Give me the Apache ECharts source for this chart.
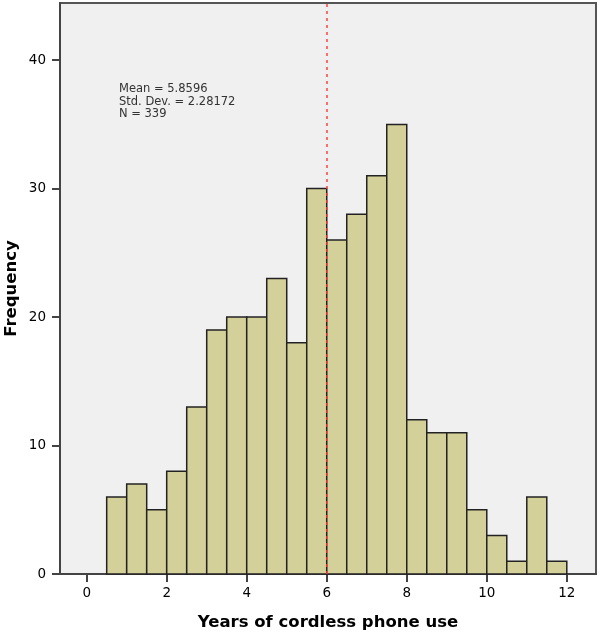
<!DOCTYPE html>
<html><head><meta charset="utf-8">
<script src="https://cdn.jsdelivr.net/npm/echarts@6/dist/echarts.min.js"></script>
<style>html,body{margin:0;padding:0;background:#fff}#c{width:600px;height:635px}</style>
</head><body><div id="c"></div>
<script>
const binStarts = [0.5,1.0,1.5,2.0,2.5,3.0,3.5,4.0,4.5,5.0,5.5,6.0,6.5,7.0,7.5,8.0,8.5,9.0,9.5,10.0,10.5,11.0,11.5];
const binWidth = 0.5;
const frequencies = [6,7,5,8,13,19,20,20,23,18,30,26,28,31,35,12,11,11,5,3,1,6,1];
const xTicks = [0,2,4,6,8,10,12];
const yTicks = [0,10,20,30,40];
const meanLine = 6;
const statsText = ['Mean = 5.8596','Std. Dev. = 2.28172','N = 339'];

const data = binStarts.map((s,i)=>[s, s+binWidth, frequencies[i]]);
const chart = echarts.init(document.getElementById('c'));
chart.setOption({
  backgroundColor:'#fff',
  animation:false,
  grid:{left:60,top:3,right:4,bottom:61,outerBoundsMode:'none',containLabel:false,show:true,backgroundColor:'#f0f0f0',borderColor:'#555',borderWidth:2},
  xAxis:{type:'value',min:-0.667,max:12.73,
    name:'Years of cordless phone use',nameLocation:'middle',nameGap:40,nameMoveOverlap:false,
    nameTextStyle:{fontFamily:'DejaVu Sans',fontWeight:'bold',fontSize:16.5,color:'#000'},
    axisLine:{show:true,onZero:false,lineStyle:{color:'#444',width:2}},
    axisTick:{show:true,length:8,customValues:xTicks,lineStyle:{color:'#444',width:2}},
    axisLabel:{customValues:xTicks,margin:12,fontFamily:'DejaVu Sans',fontSize:13.5,color:'#000'},
    splitLine:{show:false}},
  yAxis:{type:'value',min:0,max:44.45,
    name:'Frequency',nameLocation:'middle',nameGap:40,nameRotate:90,nameMoveOverlap:false,
    nameTextStyle:{fontFamily:'DejaVu Sans',fontWeight:'bold',fontSize:16.5,color:'#000'},
    axisLine:{show:true,onZero:false,lineStyle:{color:'#444',width:2}},
    axisTick:{show:true,length:8,customValues:yTicks,lineStyle:{color:'#444',width:2}},
    axisLabel:{customValues:yTicks,margin:14,fontFamily:'DejaVu Sans',fontSize:13.5,color:'#000'},
    splitLine:{show:false}},
  graphic:[{type:'text',left:119,top:83,style:{text:statsText.join('\n'),font:'11.5px "DejaVu Sans"',fill:'#333',lineHeight:12.5}}],
  series:[{
    type:'custom',
    data:data,
    encode:{x:[0,1],y:2},
    renderItem:function(params,api){
      const p0=api.coord([api.value(0),api.value(2)]);
      const p1=api.coord([api.value(1),0]);
      return {type:'rect',shape:{x:p0[0],y:p0[1],width:p1[0]-p0[0],height:p1[1]-p0[1]},
        style:{fill:'#d4d09a',stroke:'#222',lineWidth:1.5}};
    },
    markLine:{silent:true,symbol:'none',label:{show:false},
      lineStyle:{color:'#ff4040',type:[3,4],width:1.5},
      data:[{xAxis:meanLine}]}
  }]
});
</script></body></html>
